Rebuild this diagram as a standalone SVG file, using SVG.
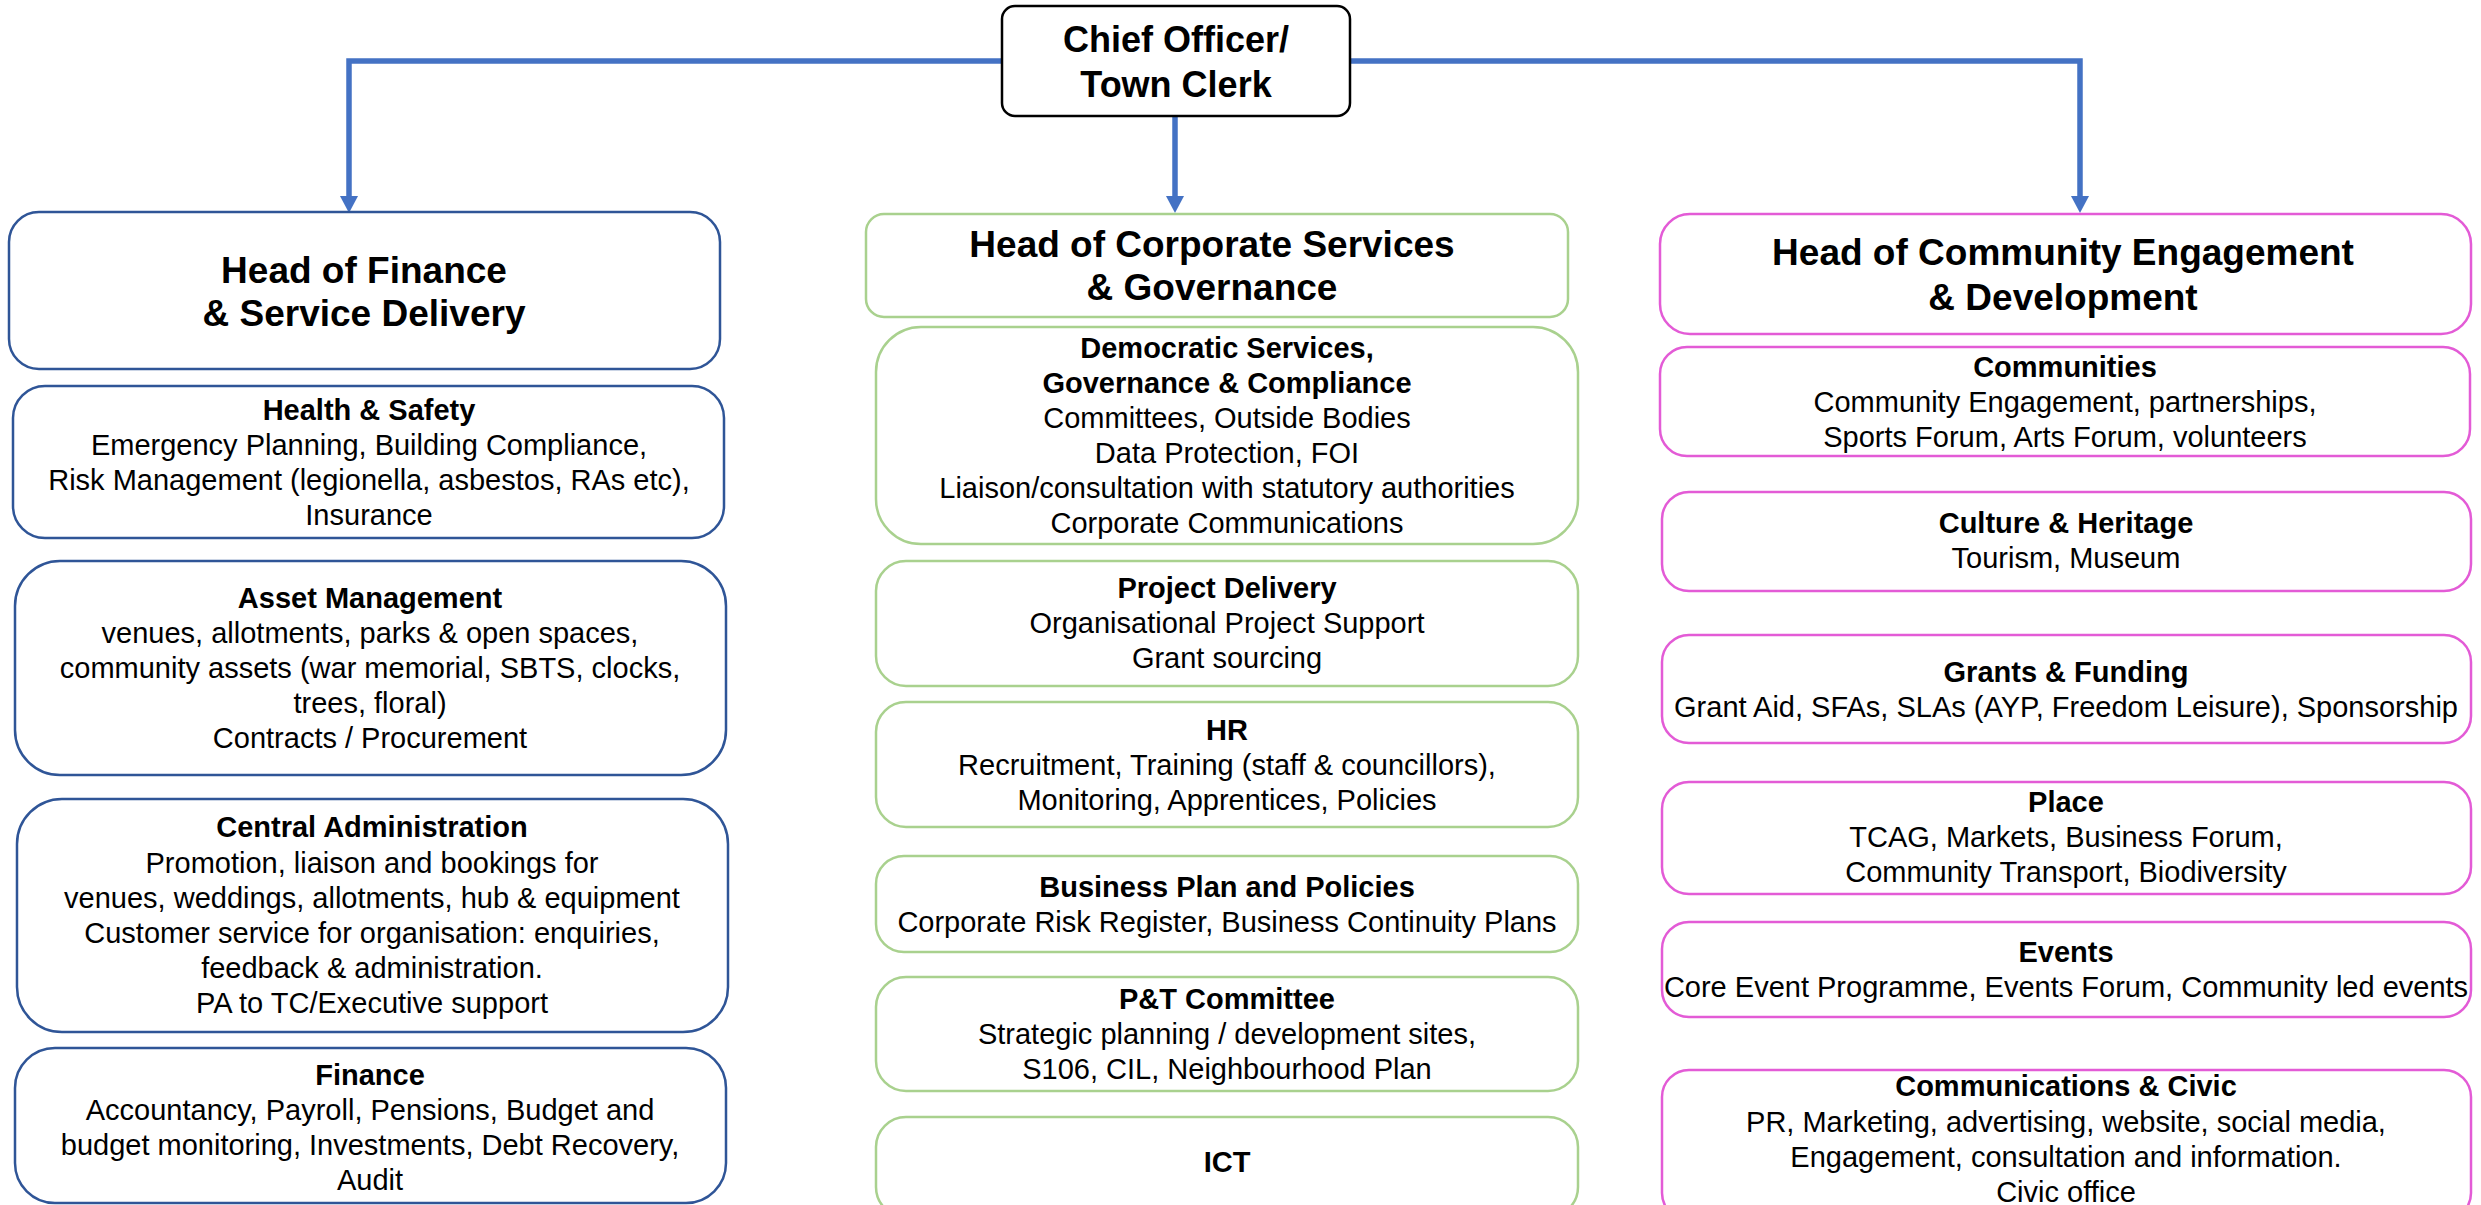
<svg xmlns="http://www.w3.org/2000/svg" width="2481" height="1205" viewBox="0 0 2481 1205">
  <defs>
    <style>
      text { font-family: "Liberation Sans", Arial, sans-serif; fill: #000; text-anchor: middle; }
      .chief { font-size: 36px; font-weight: bold; }
      .head { font-size: 37px; font-weight: bold; }
      .title { font-size: 29px; font-weight: bold; }
      .body { font-size: 29px; }
      rect { fill: #fff; stroke-width: 2.5; }
      .k { stroke: #000; stroke-width: 2.5; }
      .fin { stroke: #2F5597; }
      .corp { stroke: #A9D18E; }
      .comm { stroke: #E35BD6; }
      .link { fill: none; stroke: #4472C4; stroke-width: 5.5; marker-end: url(#arrow); }
    </style>
    <marker id="arrow" viewBox="0 0 17 18" markerUnits="userSpaceOnUse" markerWidth="17" markerHeight="18" refX="4" refY="9" orient="auto">
      <path d="M0,0 L17,9 L0,18 Z" fill="#4472C4"/>
    </marker>
  </defs>

  <rect width="2481" height="1205" style="fill:#fff;stroke:none"/>

  <!-- reporting lines -->
  <g id="connectors">
    <path class="link" d="M1002,61 H349 V200"/>
    <path class="link" d="M1175,116 V200"/>
    <path class="link" d="M1350,61 H2080 V200"/>
  </g>

  <!-- top -->
  <g id="chief-officer">
    <rect class="k" x="1002" y="6" width="348" height="110" rx="13"/>
    <text class="chief" x="1176" y="52">Chief Officer/</text>
    <text class="chief" x="1176" y="97">Town Clerk</text>
  </g>

  <!-- finance column -->
  <g id="head-finance">
    <rect class="fin" x="9" y="212" width="711" height="157" rx="30"/>
    <text class="head" x="364" y="283">Head of Finance</text>
    <text class="head" x="364" y="326">&amp; Service Delivery</text>
  </g>
  <g id="health-safety">
    <rect class="fin" x="13" y="386" width="711" height="152" rx="32"/>
    <text class="title" x="369" y="420">Health &amp; Safety</text>
    <text class="body" x="369" y="455">Emergency Planning, Building Compliance,</text>
    <text class="body" x="369" y="490">Risk Management (legionella, asbestos, RAs etc),</text>
    <text class="body" x="369" y="525">Insurance</text>
  </g>
  <g id="asset-management">
    <rect class="fin" x="15" y="561" width="711" height="214" rx="45"/>
    <text class="title" x="370" y="608">Asset Management</text>
    <text class="body" x="370" y="643">venues, allotments, parks &amp; open spaces,</text>
    <text class="body" x="370" y="678">community assets (war memorial, SBTS, clocks,</text>
    <text class="body" x="370" y="713">trees, floral)</text>
    <text class="body" x="370" y="748">Contracts / Procurement</text>
  </g>
  <g id="central-administration">
    <rect class="fin" x="17" y="799" width="711" height="233" rx="45"/>
    <text class="title" x="372" y="837">Central Administration</text>
    <text class="body" x="372" y="873">Promotion, liaison and bookings for</text>
    <text class="body" x="372" y="908">venues, weddings, allotments, hub &amp; equipment</text>
    <text class="body" x="372" y="943">Customer service for organisation: enquiries,</text>
    <text class="body" x="372" y="978">feedback &amp; administration.</text>
    <text class="body" x="372" y="1013">PA to TC/Executive support</text>
  </g>
  <g id="finance">
    <rect class="fin" x="15" y="1048" width="711" height="155" rx="40"/>
    <text class="title" x="370" y="1085">Finance</text>
    <text class="body" x="370" y="1120">Accountancy, Payroll, Pensions, Budget and</text>
    <text class="body" x="370" y="1155">budget monitoring, Investments, Debt Recovery,</text>
    <text class="body" x="370" y="1190">Audit</text>
  </g>

  <!-- corporate services column -->
  <g id="head-corporate">
    <rect class="corp" x="866" y="214" width="702" height="103" rx="18"/>
    <text class="head" x="1212" y="257">Head of Corporate Services</text>
    <text class="head" x="1212" y="300">&amp; Governance</text>
  </g>
  <g id="democratic-services">
    <rect class="corp" x="876" y="327" width="702" height="217" rx="45"/>
    <text class="title" x="1227" y="358">Democratic Services,</text>
    <text class="title" x="1227" y="393">Governance &amp; Compliance</text>
    <text class="body" x="1227" y="428">Committees, Outside Bodies</text>
    <text class="body" x="1227" y="463">Data Protection, FOI</text>
    <text class="body" x="1227" y="498">Liaison/consultation with statutory authorities</text>
    <text class="body" x="1227" y="533">Corporate Communications</text>
  </g>
  <g id="project-delivery">
    <rect class="corp" x="876" y="561" width="702" height="125" rx="30"/>
    <text class="title" x="1227" y="598">Project Delivery</text>
    <text class="body" x="1227" y="633">Organisational Project Support</text>
    <text class="body" x="1227" y="668">Grant sourcing</text>
  </g>
  <g id="hr">
    <rect class="corp" x="876" y="702" width="702" height="125" rx="30"/>
    <text class="title" x="1227" y="740">HR</text>
    <text class="body" x="1227" y="775">Recruitment, Training (staff &amp; councillors),</text>
    <text class="body" x="1227" y="810">Monitoring, Apprentices, Policies</text>
  </g>
  <g id="business-plan">
    <rect class="corp" x="876" y="856" width="702" height="96" rx="28"/>
    <text class="title" x="1227" y="897">Business Plan and Policies</text>
    <text class="body" x="1227" y="932">Corporate Risk Register, Business Continuity Plans</text>
  </g>
  <g id="pt-committee">
    <rect class="corp" x="876" y="977" width="702" height="114" rx="30"/>
    <text class="title" x="1227" y="1009">P&amp;T Committee</text>
    <text class="body" x="1227" y="1044">Strategic planning / development sites,</text>
    <text class="body" x="1227" y="1079">S106, CIL, Neighbourhood Plan</text>
  </g>
  <g id="ict">
    <rect class="corp" x="876" y="1117" width="702" height="100" rx="30"/>
    <text class="title" x="1227" y="1172">ICT</text>
  </g>

  <!-- community column -->
  <g id="head-community">
    <rect class="comm" x="1660" y="214" width="811" height="120" rx="30"/>
    <text class="head" x="2063" y="265">Head of Community Engagement</text>
    <text class="head" x="2063" y="310">&amp; Development</text>
  </g>
  <g id="communities">
    <rect class="comm" x="1660" y="347" width="810" height="109" rx="27"/>
    <text class="title" x="2065" y="377">Communities</text>
    <text class="body" x="2065" y="412">Community Engagement, partnerships,</text>
    <text class="body" x="2065" y="447">Sports Forum, Arts Forum, volunteers</text>
  </g>
  <g id="culture-heritage">
    <rect class="comm" x="1662" y="492" width="809" height="99" rx="27"/>
    <text class="title" x="2066" y="533">Culture &amp; Heritage</text>
    <text class="body" x="2066" y="568">Tourism, Museum</text>
  </g>
  <g id="grants-funding">
    <rect class="comm" x="1662" y="635" width="809" height="108" rx="27"/>
    <text class="title" x="2066" y="682">Grants &amp; Funding</text>
    <text class="body" x="2066" y="717">Grant Aid, SFAs, SLAs (AYP, Freedom Leisure), Sponsorship</text>
  </g>
  <g id="place">
    <rect class="comm" x="1662" y="782" width="809" height="112" rx="27"/>
    <text class="title" x="2066" y="812">Place</text>
    <text class="body" x="2066" y="847">TCAG, Markets, Business Forum,</text>
    <text class="body" x="2066" y="882">Community Transport, Biodiversity</text>
  </g>
  <g id="events">
    <rect class="comm" x="1662" y="922" width="809" height="95" rx="27"/>
    <text class="title" x="2066" y="962">Events</text>
    <text class="body" x="2066" y="997">Core Event Programme, Events Forum, Community led events</text>
  </g>
  <g id="communications-civic">
    <rect class="comm" x="1662" y="1070" width="809" height="150" rx="27"/>
    <text class="title" x="2066" y="1096">Communications &amp; Civic</text>
    <text class="body" x="2066" y="1132">PR, Marketing, advertising, website, social media,</text>
    <text class="body" x="2066" y="1167">Engagement, consultation and information.</text>
    <text class="body" x="2066" y="1202">Civic office</text>
  </g>
</svg>
